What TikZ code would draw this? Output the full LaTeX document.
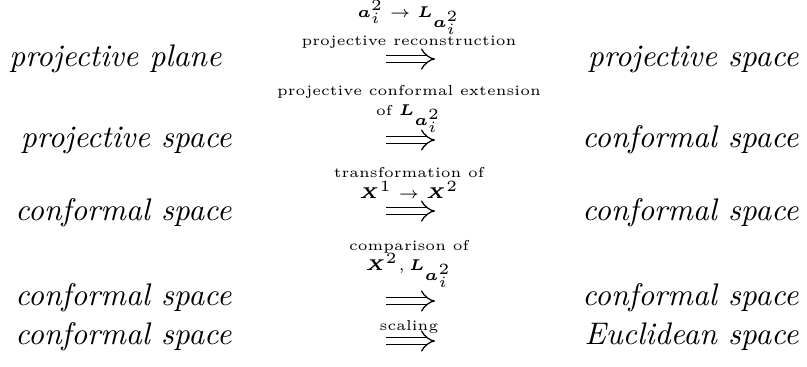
\documentclass[tikz,border=0pt]{standalone}
\usepackage{amsmath}
\usetikzlibrary{arrows.meta, positioning}

\begin{document}
\begin{tikzpicture}[
        x=0.32pt, y=-0.32pt,
        spacename/.style={
            font=\itshape,
            inner sep=0pt,
            anchor=base east
        },
        steplabel/.style={
            font=\fontsize{4.6}{5.5}\selectfont,
            inner sep=0pt,
            anchor=base
        },
        implies/.style={double, double distance=2pt, line width=0.4pt, -{Implies}}
    ]
        \useasboundingbox (0,0) rectangle (807,366);

        % left column
        \node[spacename] (from1) at (222,66) {projective plane};
        \node[spacename] (from2) at (232,147) {projective space};
        \node[spacename] (from3) at (232,220) {conformal space};
        \node[spacename] (from4) at (232,305) {conformal space};
        \node[spacename] (from5) at (232,344) {conformal space};

        % right column
        \node[spacename] (to1) at (799,66) {projective space};
        \node[spacename] (to2) at (799,147) {conformal space};
        \node[spacename] (to3) at (799,220) {conformal space};
        \node[spacename] (to4) at (799,305) {conformal space};
        \node[spacename] (to5) at (799,344) {Euclidean space};

        % arrows
        \coordinate (imp1a) at (386,59);  \coordinate (imp1b) at (435,59);
        \coordinate (imp2a) at (386,140); \coordinate (imp2b) at (435,140);
        \coordinate (imp3a) at (386,211); \coordinate (imp3b) at (435,211);
        \coordinate (imp4a) at (386,301); \coordinate (imp4b) at (435,301);
        \coordinate (imp5a) at (386,341); \coordinate (imp5b) at (435,341);
        \draw[implies] (imp1a) -- (imp1b);
        \draw[implies] (imp2a) -- (imp2b);
        \draw[implies] (imp3a) -- (imp3b);
        \draw[implies] (imp4a) -- (imp4b);
        \draw[implies] (imp5a) -- (imp5b);

        % labels
        \node[steplabel] (map1) at (409,17)
            {$\boldsymbol{a}_i^2\rightarrow\boldsymbol{L}_{\boldsymbol{a}_i^2}$};
        \node[steplabel] (step1) at (409,45) {projective reconstruction};
        \node[steplabel] (step2) at (409,95) {projective conformal extension};
        \node[steplabel] (map2) at (409,115) {of $\boldsymbol{L}_{\boldsymbol{a}_i^2}$};
        \node[steplabel] (step3) at (409,177) {transformation of};
        \node[steplabel] (map3) at (409,198)
            {$\boldsymbol{X}^1\rightarrow\boldsymbol{X}^2$};
        \node[steplabel] (step4) at (409,250) {comparison of};
        \node[steplabel] (map4) at (409,270)
            {$\boldsymbol{X}^2,\boldsymbol{L}_{\boldsymbol{a}_i^2}$};
        \node[steplabel] (step5) at (409,330) {scaling};
    \end{tikzpicture}
\end{document}
